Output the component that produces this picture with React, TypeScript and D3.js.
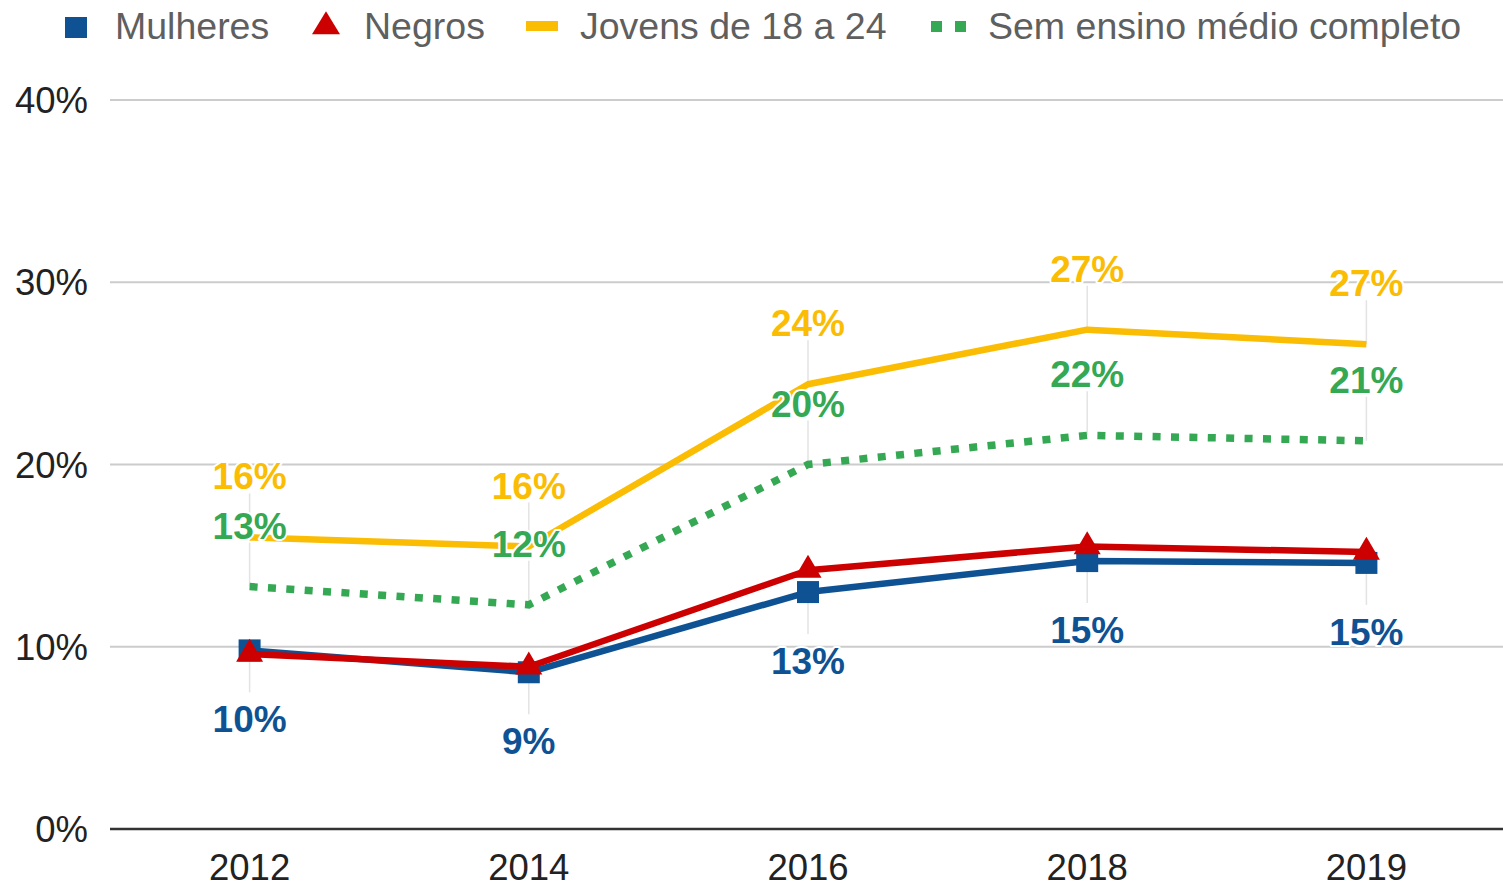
import { scaleLinear, scalePoint, line, format } from 'd3'

const years = ['2012', '2014', '2016', '2018', '2019']
const mulheres = [0.098, 0.086, 0.13, 0.147, 0.146]
const negros = [0.096, 0.089, 0.142, 0.155, 0.152]
const jovens = [0.16, 0.155, 0.244, 0.274, 0.266]
const semEnsino = [0.133, 0.123, 0.2, 0.216, 0.213]
const yTicks = [0, 0.1, 0.2, 0.3, 0.4]

const width = 1503,
      height = 887,
      left = 110,
      top = 100,
      bottom = 829

const BLUE = '#0F5294',
      RED = '#CC0000',
      YELLOW = '#FBBC04',
      GREEN = '#34A853',
      FONT = '"Liberation Sans", Arial, sans-serif'

const pct = format('.0%')

const x = scalePoint<string>().domain(years).range([left, 1506]).padding(0.5)
const y = scaleLinear().domain([0, 0.4]).range([bottom, top])

const path = (vals: number[]) =>
  line<number>()
    .x((_, i) => x(years[i]) as number)
    .y(d => y(d))(vals)

const tri = (cx: number, cy: number, w: number, h: number) =>
  `M${cx},${cy - (h * 2) / 3}L${cx + w / 2},${cy + h / 3}L${cx - w / 2},${cy + h / 3}Z`

// labels: above for yellow & green, below for blue
const labelled = [
  { vals: jovens, color: YELLOW, above: true },
  { vals: semEnsino, color: GREEN, above: true },
  { vals: mulheres, color: BLUE, above: false }
]

export default function App() {
  return (
    <svg width={width} height={height} style={{ display: 'block', position: 'absolute', left: 0, top: 0, background: '#fff' }} fontFamily={FONT}>
      {/* legend */}
      <g fontSize={37.5} fill='#5f5f5f'>
        <rect x={65} y={17} width={22} height={21} fill={BLUE} />
        <text x={115} y={39}>Mulheres</text>
        <path d={tri(326, 26.5, 28, 23)} fill={RED} />
        <text x={364} y={39}>Negros</text>
        <rect x={526} y={21} width={32} height={10} fill={YELLOW} />
        <text x={580} y={39}>Jovens de 18 a 24</text>
        <rect x={931} y={21} width={11} height={11} fill={GREEN} />
        <rect x={955} y={21} width={11} height={11} fill={GREEN} />
        <text x={988} y={39}>Sem ensino médio completo</text>
      </g>

      {/* grid + y axis */}
      {yTicks.map(t => (
        <g key={t}>
          <line x1={left} x2={width} y1={y(t)} y2={y(t)}
            stroke={t === 0 ? '#333' : '#cccccc'} strokeWidth={t === 0 ? 2.5 : 2} />
          <text x={88} y={y(t) + 13} textAnchor='end' fontSize={36.5} fill='#222'>{pct(t)}</text>
        </g>
      ))}

      {/* x axis labels */}
      {years.map(yr => (
        <text key={yr} x={x(yr)} y={880} textAnchor='middle' fontSize={36.5} fill='#222'>{yr}</text>
      ))}

      {/* leader lines */}
      {labelled.map(s => s.vals.map((v, i) => {
        const cx = x(years[i]) as number, cy = y(v)
        return <line key={s.color + i} x1={cx} x2={cx}
          y1={s.above ? cy - 44 : cy} y2={s.above ? cy : cy + 42}
          stroke='#e3e3e3' strokeWidth={1.5} />
      }))}

      {/* series */}
      <path d={path(semEnsino) ?? ''} fill='none' stroke={GREEN} strokeWidth={7.5} strokeDasharray='8 10.4' />
      <path d={path(jovens) ?? ''} fill='none' stroke={YELLOW} strokeWidth={6.5} strokeLinejoin='round' />
      <path d={path(mulheres) ?? ''} fill='none' stroke={BLUE} strokeWidth={6.5} strokeLinejoin='round' />
      {mulheres.map((v, i) => (
        <rect key={'m' + i} x={(x(years[i]) as number) - 11} y={y(v) - 11} width={22} height={22} fill={BLUE} />
      ))}
      <path d={path(negros) ?? ''} fill='none' stroke={RED} strokeWidth={6.5} strokeLinejoin='round' />
      {negros.map((v, i) => (
        <path key={'n' + i} d={tri(x(years[i]) as number, y(v), 27, 23)} fill={RED} />
      ))}

      {/* data labels */}
      {labelled.map(s => s.vals.map((v, i) => (
        <text key={'l' + s.color + i} x={x(years[i])} y={s.above ? y(v) - 48 : y(v) + 82}
          textAnchor='middle' fontSize={37} fontWeight='bold' fill={s.color}
          stroke='#fff' strokeWidth={4} strokeLinejoin='round' paintOrder='stroke'>
          {pct(v)}
        </text>
      )))}
    </svg>
  )
}
